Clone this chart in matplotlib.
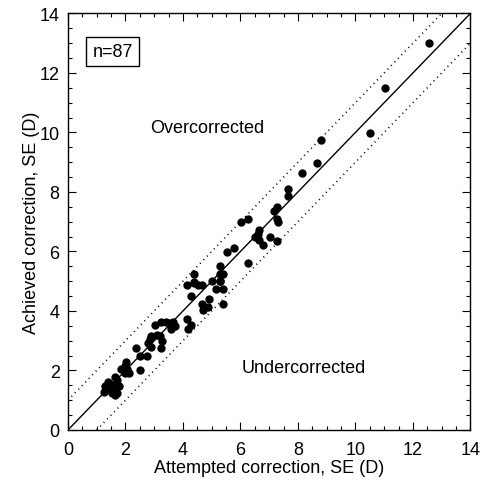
import matplotlib
matplotlib.use("Agg")
import matplotlib.pyplot as plt
from matplotlib.ticker import MultipleLocator

plt.rcParams['font.family'] = ['Liberation Sans', 'DejaVu Sans']

# attempted vs achieved spherical equivalent (D)
attempted = [12.55, 11.03, 10.52, 8.79, 8.66, 8.14, 7.66, 7.66, 7.28, 7.17,
             7.28, 7.31, 7.28, 7.03, 6.28, 6.03, 6.66, 6.52, 6.66, 6.79,
             5.76, 5.52, 6.28, 5.28, 4.38, 5.28, 5.41, 4.38, 4.52, 4.66,
             4.14, 5.00, 5.28, 5.14, 5.38, 4.28, 4.66, 4.90, 4.69, 4.86,
             5.38, 4.14, 4.28, 4.17, 3.03, 3.24, 3.41, 3.66, 3.72, 3.59,
             2.90, 3.21, 3.28, 2.79, 2.90, 3.24, 2.38, 2.52, 2.76, 2.03,
             1.97, 2.07, 1.86, 1.97, 2.14, 2.52, 1.62, 1.69, 1.38, 1.28,
             1.48, 1.62, 1.76, 1.38, 1.24, 1.52, 1.62, 1.72,
             2.00, 1.45, 3.50, 4.40, 5.30, 6.60, 3.10, 2.85, 1.55]
achieved = [13.00, 11.49, 9.98, 9.74, 8.97, 8.64, 8.10, 7.86, 7.49, 7.36,
            7.09, 6.99, 6.35, 6.49, 7.09, 6.99, 6.72, 6.49, 6.38, 6.22,
            6.12, 5.98, 5.61, 5.51, 5.24, 5.24, 5.24, 4.97, 4.87, 4.87,
            4.87, 5.01, 5.01, 4.74, 4.74, 4.50, 4.23, 4.40, 4.03, 4.13,
            4.23, 3.73, 3.53, 3.39, 3.53, 3.63, 3.63, 3.63, 3.49, 3.39,
            3.16, 3.16, 2.99, 2.92, 2.79, 2.76, 2.76, 2.49, 2.49, 2.28,
            2.15, 2.05, 2.05, 1.95, 1.92, 2.02, 1.78, 1.68, 1.61, 1.48,
            1.48, 1.48, 1.48, 1.38, 1.28, 1.24, 1.18, 1.24,
            1.90, 1.55, 3.60, 4.95, 5.00, 6.60, 3.20, 3.05, 1.35]

lim = [0, 14]

fig = plt.figure(figsize=(4.82, 4.81), dpi=100)
ax = fig.add_axes([0.141, 0.104, 0.835, 0.866])

ax.plot(lim, lim, color='black', lw=1.0)
ax.plot([0, 13], [1, 14], color='black', lw=1.2, ls=(0, (0.6, 2.4)))
ax.plot([1, 14], [0, 13], color='black', lw=1.2, ls=(0, (0.6, 2.4)))
ax.scatter(attempted, achieved, s=36, color='black', zorder=3, linewidths=0)

ax.set_xlim(lim)
ax.set_ylim(lim)
ax.xaxis.set_major_locator(MultipleLocator(2))
ax.yaxis.set_major_locator(MultipleLocator(2))
ax.xaxis.set_minor_locator(MultipleLocator(0.5))
ax.yaxis.set_minor_locator(MultipleLocator(0.5))
ax.tick_params(which='both', direction='in', top=True, right=True, width=0.8)
ax.tick_params(which='major', length=6, labelsize=13)
ax.tick_params(axis='x', which='major', pad=8)
ax.tick_params(axis='y', which='major', pad=6)
ax.tick_params(which='minor', length=3)
for s in ax.spines.values():
    s.set_linewidth(1.0)

ax.set_xlabel('Attempted correction, SE (D)', fontsize=13, labelpad=1)
ax.set_ylabel('Achieved correction, SE (D)', fontsize=13, labelpad=0)

ax.text(2.85, 10.18, 'Overcorrected', fontsize=13, va='center', ha='left')
ax.text(6.05, 2.1, 'Undercorrected', fontsize=13, va='center', ha='left')
ax.text(1.55, 12.72, 'n=87', fontsize=13, va='center', ha='center',
        bbox=dict(boxstyle='square,pad=0.35', fc='white', ec='black', lw=1.0))

fig.savefig('out.png', dpi=100)
